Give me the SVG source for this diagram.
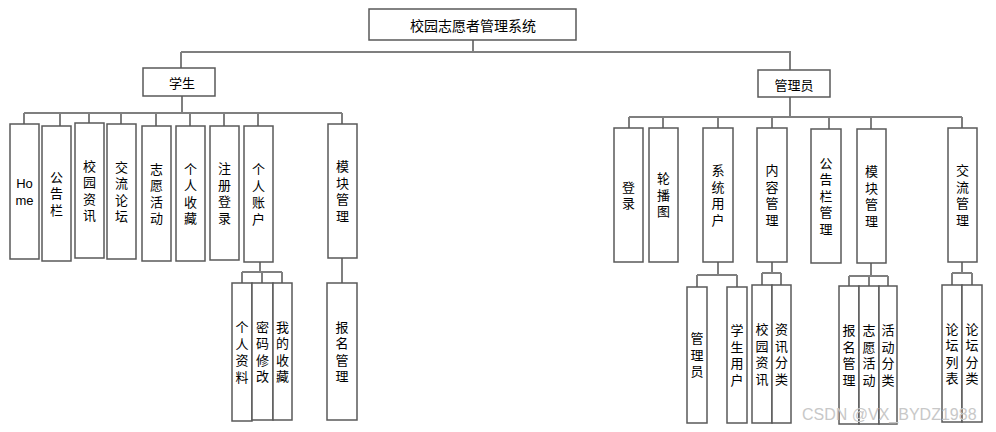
<svg xmlns="http://www.w3.org/2000/svg" width="996" height="432" viewBox="0 0 996 432">
<style>
.box{fill:#fff;stroke:#595959;stroke-width:1.5}
.t{font-family:"Noto Sans CJK SC","Liberation Sans",sans-serif;font-size:13px;fill:#000;text-anchor:middle;dominant-baseline:central}
.v{font-family:"Noto Sans CJK SC","Liberation Sans",sans-serif;font-size:13px;fill:#000;text-anchor:middle;writing-mode:vertical-rl;letter-spacing:3.5px}
.h{font-family:"Noto Sans CJK SC","Liberation Sans",sans-serif;font-size:14px;fill:#000;text-anchor:middle;dominant-baseline:central}
.c{fill:none;stroke:#7f7f7f;stroke-width:2}
.wm{font-family:"Liberation Sans",sans-serif;font-size:16px;fill:#c8c8c8}
</style>
<rect width="996" height="432" fill="#fff"/>
<g id="connectors" class="c">
<path d="M473,40 V52 M181,52 H790 V70 M181,52 V68"/>
<path d="M182,96 V113 M24,113 H342 M24,113 V124 M60,113 V126 M89,113 V123 M121,113 V124 M156,113 V126 M190,113 V126 M224,113 V126 M258,113 V126 M342,113 V124"/>
<path d="M260,262 V272 M242,272 H282 M242,272 V283 M262,272 V283 M282,272 V283"/>
<path d="M342,258 V283"/>
<path d="M790,97 V117 M629,117 H962 M629,117 V128 M663,117 V128 M718,117 V128 M772,117 V128 M829,117 V129 M871,117 V129 M962,117 V128"/>
<path d="M718,262 V275 M697,275 H737 M697,275 V287 M737,275 V287"/>
<path d="M772,262 V273 M762,273 H781 M762,273 V285 M781,273 V285"/>
<path d="M871,263 V276 M849,276 H888 M849,276 V286 M869,276 V286 M888,276 V286"/>
<path d="M962,262 V273 M952,273 H972 M952,273 V285 M972,273 V285"/>
</g>
<g id="root"><rect class="box" x="369" y="9" width="207" height="31"/><text class="h" x="473" y="25">校园志愿者管理系统</text></g>
<g id="student"><rect class="box" x="143" y="68" width="72" height="28"/><text class="t" x="182" y="82">学生</text></g>
<g id="admin"><rect class="box" x="758" y="70" width="72" height="27"/><text class="t" x="794" y="84">管理员</text></g>

<g id="s-home"><rect class="box" x="10" y="124" width="29" height="135"/><text class="t" style="font-family:'Liberation Sans',sans-serif" x="24.5" y="183.5">Ho</text><text class="t" style="font-family:'Liberation Sans',sans-serif" x="24.5" y="200">me</text></g>
<g id="s-notice"><rect class="box" x="42" y="126" width="29" height="135"/><text class="v" x="56.5" y="195.25">公告栏</text></g>
<g id="s-news"><rect class="box" x="75" y="123" width="29" height="135"/><text class="v" x="89.5" y="192.25">校园资讯</text></g>
<g id="s-forum"><rect class="box" x="107" y="124" width="29" height="135"/><text class="v" x="121.5" y="193.25">交流论坛</text></g>
<g id="s-activity"><rect class="box" x="142" y="126" width="29" height="135"/><text class="v" x="156.5" y="195.25">志愿活动</text></g>
<g id="s-fav"><rect class="box" x="176" y="126" width="29" height="135"/><text class="v" x="190.5" y="195.25">个人收藏</text></g>
<g id="s-login"><rect class="box" x="210" y="126" width="29" height="134"/><text class="v" x="224.5" y="194.75">注册登录</text></g>
<g id="s-account"><rect class="box" x="244" y="126" width="29" height="136"/><text class="v" x="258.5" y="195.75">个人账户</text></g>
<g id="s-module"><rect class="box" x="328" y="124" width="29" height="134"/><text class="v" x="342.5" y="192.75">模块管理</text></g>
<g id="s-profile"><rect class="box" x="232" y="283" width="20" height="138"/><text class="v" x="242" y="353.75">个人资料</text></g>
<g id="s-pwd"><rect class="box" x="252" y="283" width="21" height="137"/><text class="v" x="262.5" y="353.25">密码修改</text></g>
<g id="s-myfav"><rect class="box" x="273" y="283" width="19" height="137"/><text class="v" x="282.5" y="353.25">我的收藏</text></g>
<g id="s-signup"><rect class="box" x="327" y="283" width="30" height="137"/><text class="v" x="342" y="353.25">报名管理</text></g>

<g id="a-login"><rect class="box" x="614" y="128" width="29" height="134"/><text class="v" x="628.5" y="196.75">登录</text></g>
<g id="a-carousel"><rect class="box" x="649" y="128" width="29" height="134"/><text class="v" x="663.5" y="196.75">轮播图</text></g>
<g id="a-users"><rect class="box" x="703" y="128" width="30" height="134"/><text class="v" x="718" y="196.75">系统用户</text></g>
<g id="a-content"><rect class="box" x="757" y="128" width="30" height="134"/><text class="v" x="772" y="196.75">内容管理</text></g>
<g id="a-notice"><rect class="box" x="811" y="129" width="30" height="134"/><text class="v" x="826" y="197.75">公告栏管理</text></g>
<g id="a-module"><rect class="box" x="857" y="129" width="29" height="134"/><text class="v" x="871.5" y="197.75">模块管理</text></g>
<g id="a-forum"><rect class="box" x="948" y="128" width="29" height="134"/><text class="v" x="962.5" y="196.75">交流管理</text></g>
<g id="a-adminuser"><rect class="box" x="687" y="287" width="20" height="136"/><text class="v" x="697" y="356.75">管理员</text></g>
<g id="a-studentuser"><rect class="box" x="727" y="287" width="20" height="136"/><text class="v" x="737" y="356.75">学生用户</text></g>
<g id="a-news"><rect class="box" x="752" y="285" width="20" height="138"/><text class="v" x="762" y="355.75">校园资讯</text></g>
<g id="a-newscat"><rect class="box" x="772" y="285" width="19" height="138"/><text class="v" x="781.5" y="355.75">资讯分类</text></g>
<g id="a-signup"><rect class="box" x="839" y="286" width="20" height="138"/><text class="v" x="849" y="356.75">报名管理</text></g>
<g id="a-activity"><rect class="box" x="859" y="286" width="20" height="138"/><text class="v" x="869" y="356.75">志愿活动</text></g>
<g id="a-actcat"><rect class="box" x="879" y="286" width="18" height="138"/><text class="v" x="888" y="356.75">活动分类</text></g>
<g id="a-forumlist"><rect class="box" x="942" y="285" width="20" height="137"/><text class="v" x="952" y="355.25">论坛列表</text></g>
<g id="a-forumcat"><rect class="box" x="962" y="285" width="20" height="137"/><text class="v" x="972" y="355.25">论坛分类</text></g>

<text class="wm" x="802" y="420">CSDN @VX_BYDZ1988</text>
</svg>
